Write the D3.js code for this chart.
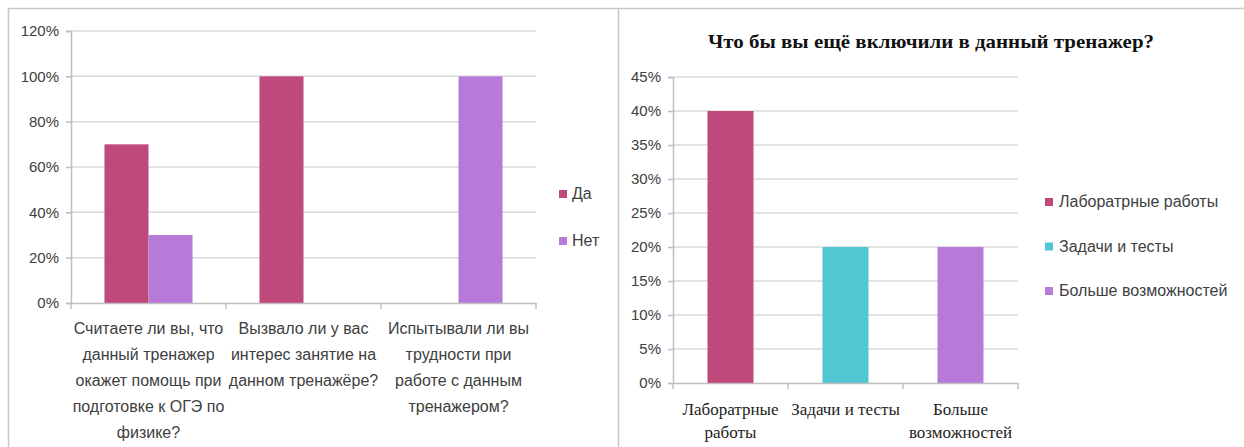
<!DOCTYPE html>
<html>
<head>
<meta charset="utf-8">
<script src="https://cdn.jsdelivr.net/npm/d3@7"></script>
<style>
  body { margin: 0; background: #fff; }
  svg { display: block; }
  .sans { font-family: "Liberation Sans Narrow", "Arial Narrow", "Liberation Sans", sans-serif; fill: #404040; }
  .serif { font-family: "Liberation Serif", "Times New Roman", serif; fill: #222; }
</style>
</head>
<body>
<svg width="1244" height="447"></svg>
<script>
// left chart data
var questions = ["q1", "q2", "q3"];
var questionLines = [
  ["Считаете ли вы, что", "данный тренажер", "окажет помощь при", "подготовке к ОГЭ по", "физике?"],
  ["Вызвало ли у вас", "интерес занятие на", "данном тренажёре?"],
  ["Испытывали ли вы", "трудности при", "работе с данным", "тренажером?"]
];
var seriesNames = ["Да", "Нет"];
var yesValues = [0.70, 1.00, 0.00];
var noValues = [0.30, 0.00, 1.00];
var leftTicks = [0, 0.2, 0.4, 0.6, 0.8, 1.0, 1.2];

// right chart data
var rightTitle = "Что бы вы ещё включили в данный тренажер?";
var options = ["Лаборатрные работы", "Задачи и тесты", "Больше возможностей"];
var optionLines = [["Лаборатрные", "работы"], ["Задачи и тесты"], ["Больше", "возможностей"]];
var optionValues = [0.40, 0.20, 0.20];
var rightTicks = [0, 0.05, 0.10, 0.15, 0.20, 0.25, 0.30, 0.35, 0.40, 0.45];

var pink = "#c0497b", purple = "#b77ad9", cyan = "#50c7d2";
var gridColor = "#d9d9d9", axisColor = "#bfbfbf";
var pct = d3.format(".0%");

var svg = d3.select("svg");

// frame lines
svg.append("line").attr("x1", 8).attr("x2", 1244).attr("y1", 8.5).attr("y2", 8.5)
    .attr("stroke", "#c8c8c8").attr("stroke-width", 1.5);
svg.append("line").attr("x1", 8.5).attr("x2", 8.5).attr("y1", 8).attr("y2", 447)
    .attr("stroke", "#c8c8c8").attr("stroke-width", 1.5);
svg.append("line").attr("x1", 618.5).attr("x2", 618.5).attr("y1", 8).attr("y2", 447)
    .attr("stroke", "#c8c8c8").attr("stroke-width", 1.5);

// ---------- left chart ----------
var L = svg.append("g");
var x0 = d3.scaleBand().domain(questions).range([71, 536]);
var x1 = d3.scaleBand().domain(seriesNames).range([0, x0.bandwidth()]).paddingOuter(0.76);
var yL = d3.scaleLinear().domain([0, 1.2]).range([303, 31]);

// gridlines
L.append("g").selectAll("line").data(leftTicks.slice(1)).enter().append("line")
    .attr("x1", 71).attr("x2", 536)
    .attr("y1", function(d) { return yL(d); }).attr("y2", function(d) { return yL(d); })
    .attr("stroke", gridColor).attr("stroke-width", 1.5);

// y axis
var yAxisL = L.append("g").attr("transform", "translate(71,0)")
    .call(d3.axisLeft(yL).tickValues(leftTicks).tickFormat(pct).tickSize(5).tickPadding(7));
yAxisL.select(".domain").attr("stroke", axisColor).attr("stroke-width", 1.5);
yAxisL.selectAll(".tick line").attr("stroke", axisColor).attr("stroke-width", 1.5);
yAxisL.selectAll(".tick text").attr("class", "sans").style("font-size", "15px");

// bars
var rows = questions.map(function(q, i) {
  return [{ q: q, s: "Да", v: yesValues[i] }, { q: q, s: "Нет", v: noValues[i] }];
});
L.append("g").selectAll("g").data(rows).enter().append("g")
    .attr("transform", function(d) { return "translate(" + x0(d[0].q) + ",0)"; })
  .selectAll("rect").data(function(d) { return d.filter(function(e) { return e.v > 0; }); })
  .enter().append("rect")
    .attr("x", function(d) { return x1(d.s); })
    .attr("width", x1.bandwidth())
    .attr("y", function(d) { return yL(d.v); })
    .attr("height", function(d) { return yL(0) - yL(d.v); })
    .attr("fill", function(d) { return d.s === "Да" ? pink : purple; });

// x axis
var xAxisL = L.append("g").attr("transform", "translate(0,303)")
    .call(d3.axisBottom(x0).tickSize(0).tickFormat(""));
xAxisL.select(".domain").attr("stroke", axisColor).attr("stroke-width", 1.5);
L.append("g").selectAll("line").data(questions.map(function(q) { return x0(q); }).concat([x0.range()[1]]))
  .enter().append("line")
    .attr("x1", function(d) { return d; }).attr("x2", function(d) { return d; })
    .attr("y1", 303).attr("y2", 309)
    .attr("stroke", axisColor).attr("stroke-width", 1.5);

questions.forEach(function(q, i) {
  var t = L.append("text").attr("class", "sans").attr("text-anchor", "middle")
      .style("font-size", "16px")
      .attr("x", x0(q) + x0.bandwidth() / 2).attr("y", 334);
  questionLines[i].forEach(function(line, j) {
    t.append("tspan").attr("x", x0(q) + x0.bandwidth() / 2).attr("dy", j === 0 ? 0 : 26).text(line);
  });
});

// legend
var legL = L.append("g").attr("transform", "translate(559,190)");
seriesNames.forEach(function(s, i) {
  var g = legL.append("g").attr("transform", "translate(0," + (i * 47) + ")");
  g.append("rect").attr("width", 8).attr("height", 8).attr("fill", i === 0 ? pink : purple);
  g.append("text").attr("class", "sans").attr("x", 13).attr("y", 9).style("font-size", "16px").text(s);
});

// ---------- right chart ----------
var R = svg.append("g");
var xR = d3.scaleBand().domain(options).range([673, 1018]);
var xBar = d3.scaleBand().domain(options).range([673, 1018]).paddingInner(0.6).paddingOuter(0.3);
var yR = d3.scaleLinear().domain([0, 0.45]).range([383, 77]);
var colorR = d3.scaleOrdinal().domain(options).range([pink, cyan, purple]);

R.append("text").attr("class", "serif").attr("text-anchor", "middle")
    .attr("x", 931).attr("y", 48)
    .attr("textLength", 446).attr("lengthAdjust", "spacingAndGlyphs")
    .style("font-size", "19px").style("font-weight", "bold").style("fill", "#111")
    .text(rightTitle);

R.append("g").selectAll("line").data(rightTicks.slice(1)).enter().append("line")
    .attr("x1", 673).attr("x2", 1018)
    .attr("y1", function(d) { return yR(d); }).attr("y2", function(d) { return yR(d); })
    .attr("stroke", gridColor).attr("stroke-width", 1.5);

var yAxisR = R.append("g").attr("transform", "translate(673,0)")
    .call(d3.axisLeft(yR).tickValues(rightTicks).tickFormat(pct).tickSize(5).tickPadding(7));
yAxisR.select(".domain").attr("stroke", axisColor).attr("stroke-width", 1.5);
yAxisR.selectAll(".tick line").attr("stroke", axisColor).attr("stroke-width", 1.5);
yAxisR.selectAll(".tick text").attr("class", "sans").style("font-size", "15px");

R.append("g").selectAll("rect").data(options).enter().append("rect")
    .attr("x", function(d) { return xBar(d); })
    .attr("width", xBar.bandwidth())
    .attr("y", function(d, i) { return yR(optionValues[i]); })
    .attr("height", function(d, i) { return yR(0) - yR(optionValues[i]); })
    .attr("fill", function(d) { return colorR(d); });

var xAxisR = R.append("g").attr("transform", "translate(0,383)")
    .call(d3.axisBottom(xR).tickSize(0).tickFormat(""));
xAxisR.select(".domain").attr("stroke", axisColor).attr("stroke-width", 1.5);
R.append("g").selectAll("line").data(options.map(function(o) { return xR(o); }).concat([xR.range()[1]]))
  .enter().append("line")
    .attr("x1", function(d) { return d; }).attr("x2", function(d) { return d; })
    .attr("y1", 383).attr("y2", 389)
    .attr("stroke", axisColor).attr("stroke-width", 1.5);

options.forEach(function(o, i) {
  var cx = xR(o) + xR.bandwidth() / 2;
  var t = R.append("text").attr("class", "serif").attr("text-anchor", "middle")
      .style("font-size", "17px").attr("x", cx).attr("y", 415);
  optionLines[i].forEach(function(line, j) {
    t.append("tspan").attr("x", cx).attr("dy", j === 0 ? 0 : 23).text(line);
  });
});

var legR = R.append("g").attr("transform", "translate(1045,198)");
options.forEach(function(o, i) {
  var g = legR.append("g").attr("transform", "translate(0," + (i * 44.5) + ")");
  g.append("rect").attr("width", 8).attr("height", 8).attr("fill", colorR(o));
  g.append("text").attr("class", "sans").attr("x", 14).attr("y", 9).style("font-size", "16px").text(o);
});
</script>
</body>
</html>
